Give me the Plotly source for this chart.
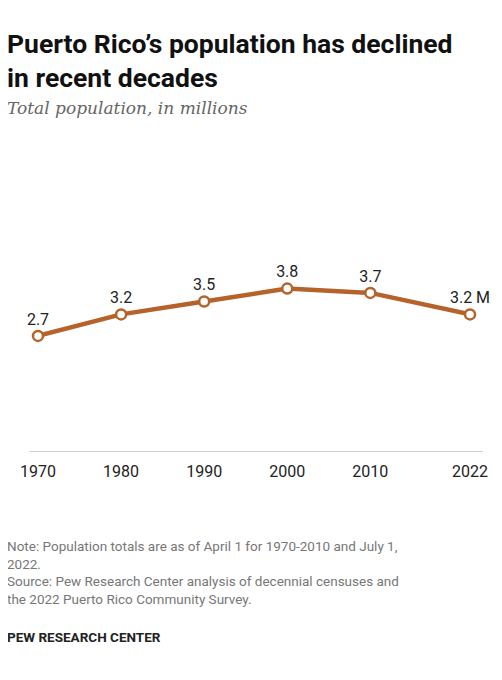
import plotly.graph_objects as go

years = [1970, 1980, 1990, 2000, 2010, 2022]
pop = [2.7, 3.2, 3.5, 3.8, 3.7, 3.2]
labels = ["2.7", "3.2", "3.5", "3.8", "3.7", "3.2 M"]
tick_labels = ["1970", "1980", "1990", "2000", "2010", "2022"]

c = "#B5622B"
fig = go.Figure(go.Scatter(
    x=years, y=pop, mode="lines+markers+text", text=labels, textposition="top center",
    textfont=dict(family="Roboto, Arial", size=16, color="#222"),
    line=dict(color=c, width=4.5),
    marker=dict(size=10, color="white", line=dict(color=c, width=2.5)),
    cliponaxis=False, hoverinfo="skip"))

L, R, T, B = 27, 40, 143, 236
fig.update_layout(
    width=502, height=680, paper_bgcolor="white", plot_bgcolor="white",
    margin=dict(l=L, r=R, t=T, b=B), showlegend=False,
    xaxis=dict(range=[1970, 2022], tickvals=years, ticktext=tick_labels, showgrid=False,
               zeroline=False, showline=False, ticks="", tickfont=dict(family="Roboto, Arial", size=16, color="#222")),
    yaxis=dict(range=[0, 7], visible=False, fixedrange=True),
    shapes=[dict(type="line", xref="paper", yref="y", x0=-0.02, x1=1.03, y0=0, y1=0,
                 line=dict(color="#999", width=1.2))],
    font=dict(family="Roboto, Arial"),
)
fig.update_xaxes(ticklabelstandoff=8)
anns = [
    dict(text="<b>Puerto Rico’s population has declined<br>in recent decades</b>", x=-6, y=18, align="left",
         font=dict(size=26.5, color="#111", family="Roboto, Arial"), yanchor="top"),
    dict(text="<i>Total population, in millions</i>", x=-6, y=88,
         font=dict(size=17, color="#666", family="DejaVu Serif, Georgia, serif"), yanchor="top"),
    dict(text="Note: Population totals are as of April 1 for 1970-2010 and July 1,<br>2022.<br>Source: Pew Research Center analysis of decennial censuses and<br>the 2022 Puerto Rico Community Survey.",
         x=-6, y=528, align="left", font=dict(size=13.5, color="#777", family="Roboto, Arial"), yanchor="top"),
    dict(text="<b>PEW RESEARCH CENTER</b>", x=-6, y=619, font=dict(size=13.5, color="#222", family="Roboto, Arial"), yanchor="top"),
]
for a in anns:
    a.update(xref="paper", yref="paper", showarrow=False, xanchor="left")
    a["x"] = (a["x"] - L) / (502 - L - R)
    a["y"] = 1 - (a["y"] - T) / (680 - T - B)
fig.update_layout(annotations=anns)
fig.write_html("out.html")
